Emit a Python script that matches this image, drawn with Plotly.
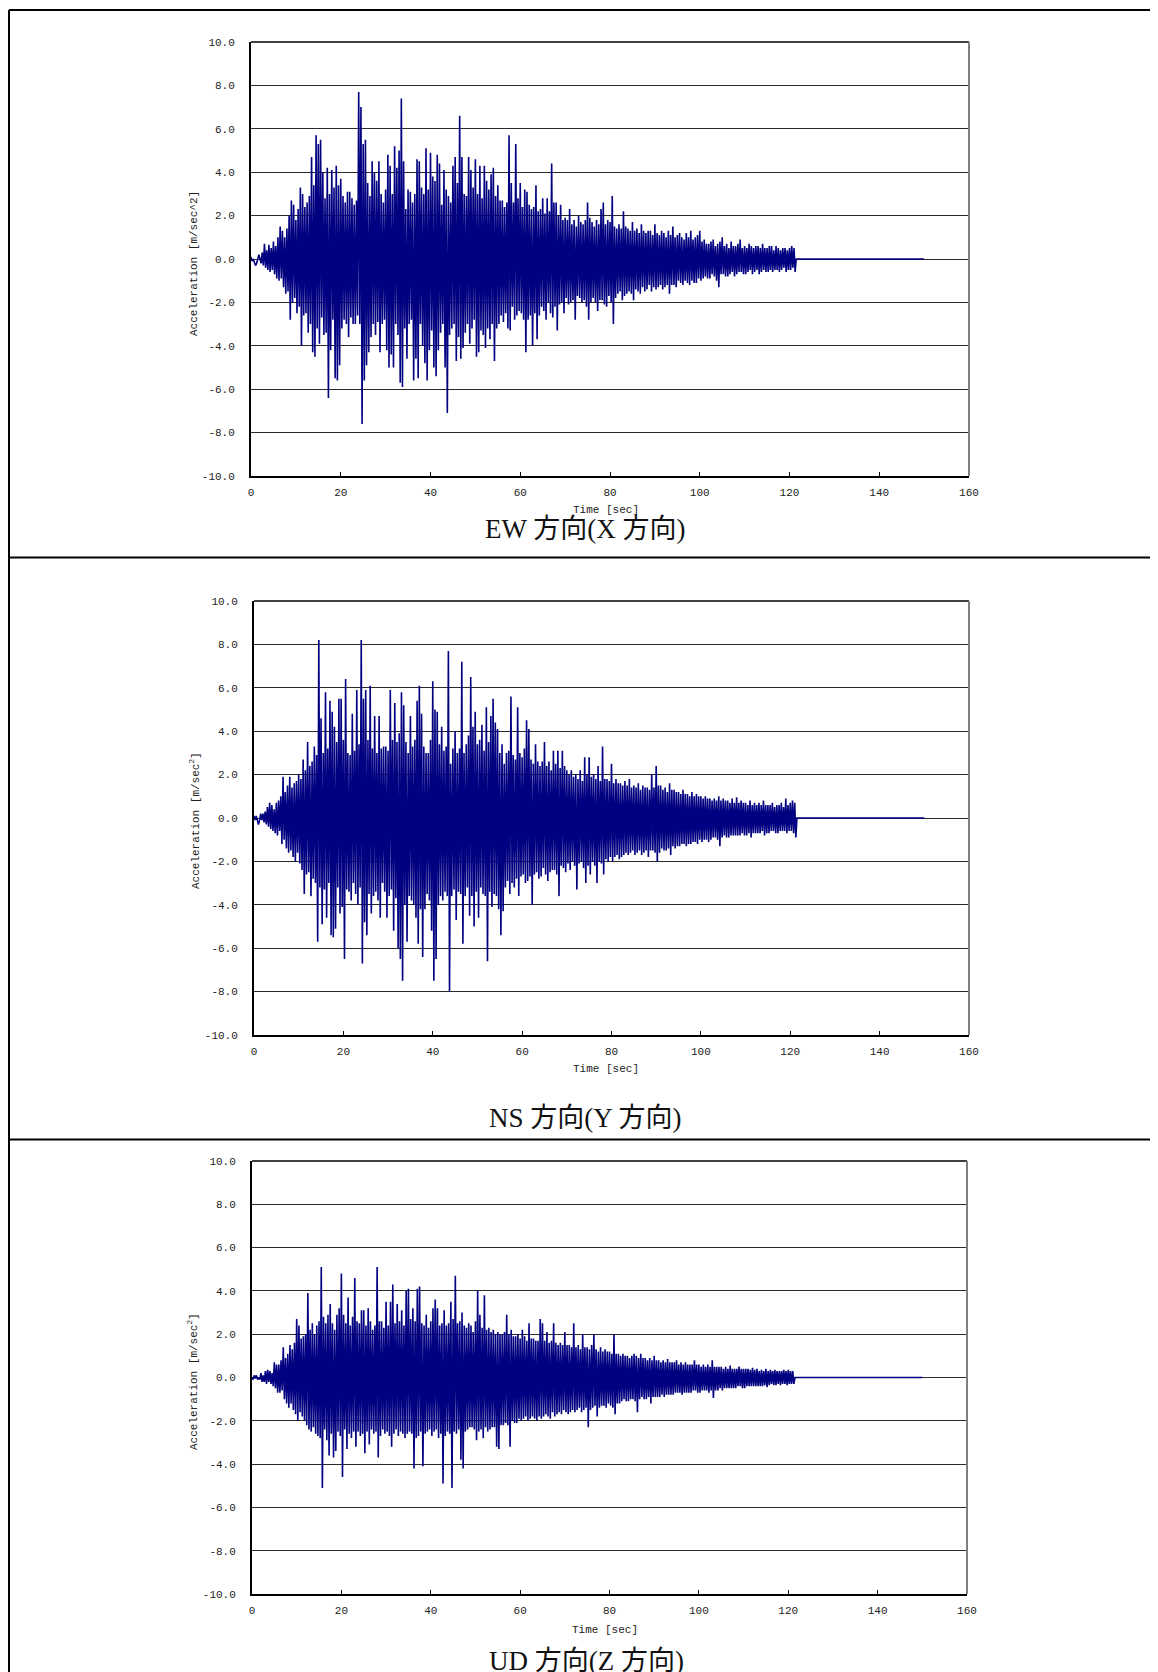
import numpy as np
import plotly.graph_objects as go

# ---------------- data ----------------
DT = 0.25  # sampling step of the values below [sec]

ew_acc = [
    0.1,-0.1,0.0,-0.2, -0.3,-0.2,0.1,0.2, 0.0,-0.2,0.3,-0.3, 0.7,-0.4,0.4,-0.5, 0.65,-0.6,0.5,-0.5,
    0.8,-0.7,0.6,-0.9, 1.0,-1.0,1.5,-0.9, 1.3,-1.3,1.0,-1.6, 1.4,-1.5,2.0,-2.8, 2.7,-2.0,2.5,-1.8,
    1.8,-2.5,2.3,-2.2, 3.3,-4.0,3.0,-2.6, 2.4,-2.5,2.6,-3.4, 2.9,-3.0,4.7,-4.3, 3.4,-4.5,5.7,-3.2,
    5.3,-3.9,5.5,-2.7, 4.0,-3.5,2.8,-3.4, 4.2,-6.4,3.0,-4.2, 4.1,-2.8,3.3,-5.5, 4.3,-5.6,3.4,-4.9,
    3.7,-3.2,2.9,-2.8, 2.6,-3.0,3.1,-3.6, 3.1,-2.7,2.8,-3.0, 2.5,-3.0,2.7,-2.6, 7.7,-3.0,7.0,-7.6,
    5.3,-5.6,5.5,-4.9, 3.5,-4.3,2.9,-3.6, 4.5,-3.0,4.0,-3.5, 3.6,-2.9,4.5,-4.3, 3.0,-3.0,2.6,-2.8,
    3.2,-4.2,4.8,-5.0, 4.3,-4.4,3.0,-5.0, 5.2,-3.0,4.2,-3.5, 5.0,-5.7,7.4,-5.9, 4.5,-3.2,2.3,-4.6,
    3.2,-3.0,3.1,-2.8, 2.6,-5.6,3.0,-4.6, 4.6,-5.5,4.5,-3.0, 3.3,-4.0,3.0,-4.8, 5.1,-5.6,3.2,-4.2,
    4.9,-3.3,3.8,-5.0, 3.6,-5.4,4.8,-4.2, 4.4,-3.4,2.5,-3.0, 4.1,-5.0,3.2,-7.1, 2.9,-3.5,2.6,-3.2,
    4.3,-3.0,4.7,-4.7, 3.5,-3.6,6.6,-4.6, 4.7,-4.1,3.0,-3.4, 2.9,-3.0,4.7,-3.9, 4.1,-3.2,3.3,-2.8,
    4.6,-4.5,3.0,-4.3, 4.3,-3.3,2.8,-3.5, 4.3,-4.1,3.6,-3.2, 3.2,-3.7,3.9,-3.0, 4.2,-4.7,2.9,-3.2,
    3.4,-3.0,2.7,-2.6, 2.7,-2.9,2.4,-2.5, 2.6,-3.2,5.7,-3.3, 3.5,-2.2,2.6,-2.8, 5.3,-2.6,2.8,-2.4,
    3.5,-2.5,2.4,-2.8, 3.2,-4.3,3.1,-2.8, 2.5,-2.6,2.3,-4.0, 2.4,-2.5,3.4,-3.7, 2.2,-2.6,2.3,-2.2,
    2.8,-2.4,2.1,-2.8, 2.8,-2.0,2.2,-2.5, 4.4,-2.7,2.6,-2.2, 2.6,-3.3,2.0,-2.1, 2.5,-2.0,1.8,-2.5,
    1.9,-1.8,1.8,-2.1, 2.3,-2.0,1.6,-1.9, 1.8,-2.8,1.5,-1.7, 2.0,-1.8,1.7,-2.0, 1.6,-1.9,1.8,-2.2,
    2.6,-2.8,1.9,-2.0, 1.7,-1.8,1.5,-2.0, 1.8,-2.4,1.6,-1.9, 2.3,-1.9,2.6,-2.1, 1.6,-2.2,1.8,-1.7,
    1.7,-2.0,2.9,-3.0, 1.5,-1.8,1.4,-1.6, 1.6,-1.5,1.4,-1.9, 2.2,-1.7,1.5,-1.6, 1.4,-1.5,1.3,-1.6,
    1.7,-1.9,1.3,-1.4, 1.4,-1.5,1.2,-1.6, 1.6,-1.3,1.3,-1.5, 1.2,-1.4,1.3,-1.2, 1.3,-1.5,1.1,-1.3,
    1.6,-1.4,1.2,-1.3, 1.1,-1.2,1.3,-1.4, 1.2,-1.3,1.0,-1.2, 1.3,-1.6,1.1,-1.2, 1.5,-1.2,1.0,-1.3,
    1.1,-1.0,1.2,-1.1, 1.0,-1.2,0.9,-1.0, 1.2,-1.1,1.0,-1.2, 1.3,-1.0,0.9,-1.1, 1.0,-1.1,1.1,-0.9,
    1.3,-1.0,0.8,-0.9, 0.9,-0.8,0.7,-0.9, 0.7,-0.9,0.8,-0.7, 0.9,-0.8,0.6,-1.0, 0.7,-1.3,0.8,-0.7,
    1.0,-0.7,0.6,-0.8, 0.7,-0.8,0.5,-0.7, 0.8,-0.6,0.6,-0.8, 0.6,-0.7,0.7,-0.6, 0.9,-0.6,0.5,-0.7,
    0.6,-0.7,0.5,-0.6, 0.7,-0.5,0.6,-0.7, 0.5,-0.6,0.6,-0.5, 0.6,-0.7,0.5,-0.6, 0.7,-0.5,0.5,-0.6,
    0.5,-0.6,0.6,-0.5, 0.6,-0.6,0.4,-0.5, 0.6,-0.5,0.5,-0.6, 0.4,-0.5,0.5,-0.4, 0.5,-0.6,0.4,-0.5,
    0.5,-0.5,0.6,-0.4, 0.5,-0.6,
]

ns_acc = [
    0.1,-0.1,0.1,-0.2, -0.3,-0.1,0.2,-0.1, 0.2,-0.2,0.3,-0.3, 0.5,-0.4,0.7,-0.5, 0.6,-0.6,0.4,-0.7,
    0.7,-0.8,0.8,-0.6, 1.0,-1.2,1.9,-1.0, 1.2,-1.4,1.5,-1.6, 1.9,-1.5,1.4,-1.8, 1.6,-2.0,1.7,-1.6,
    2.0,-2.1,1.8,-2.4, 2.7,-3.5,2.2,-2.6, 3.5,-2.5,2.4,-3.6, 2.6,-2.8,3.3,-3.0, 2.9,-5.7,8.2,-3.2,
    4.6,-4.9,3.0,-3.3, 5.8,-4.6,3.2,-3.0, 5.4,-5.4,4.9,-5.5, 4.2,-5.1,3.5,-3.2, 5.5,-4.4,5.5,-4.1,
    3.6,-6.5,6.4,-3.3, 3.0,-3.4,2.9,-3.8, 4.8,-3.0,3.1,-3.5, 5.9,-4.0,3.4,-3.2, 8.2,-6.7,5.5,-4.8,
    5.9,-5.4,3.6,-3.5, 6.1,-4.4,3.2,-3.6, 4.7,-3.4,3.0,-3.8, 4.7,-4.6,3.2,-3.0, 3.3,-3.4,3.3,-4.6,
    3.1,-3.6,5.9,-3.3, 3.6,-5.2,5.3,-3.7, 3.5,-6.0,3.9,-6.5, 5.8,-7.5,5.2,-4.0, 3.5,-5.7,3.0,-3.6,
    4.7,-3.8,3.3,-4.0, 3.6,-4.6,5.4,-5.8, 6.1,-4.2,4.8,-6.4, 3.3,-4.2,3.0,-3.5, 3.0,-3.8,3.6,-5.2,
    6.3,-7.5,5.0,-6.5, 4.9,-4.0,3.4,-3.6, 4.2,-3.8,3.1,-3.4, 3.3,-3.6,7.7,-8.0, 2.5,-3.6,3.2,-3.3,
    4.0,-4.7,3.0,-3.4, 3.2,-3.5,7.2,-5.8, 3.0,-3.6,3.4,-3.2, 3.8,-4.5,6.5,-3.6, 4.2,-5.0,4.9,-3.4,
    3.4,-4.6,3.6,-3.2, 4.3,-3.5,3.1,-3.6, 5.1,-6.6,3.5,-3.4, 4.7,-4.1,5.5,-3.5, 4.4,-3.6,4.1,-4.2,
    3.0,-5.4,3.4,-4.3, 2.5,-3.2,3.0,-2.9, 3.1,-3.5,5.6,-3.0, 2.9,-3.2,2.7,-2.8, 5.1,-3.6,3.0,-2.7,
    2.8,-2.6,3.2,-3.0, 4.5,-2.9,4.1,-2.7, 2.7,-4.0,2.5,-2.6, 3.4,-2.5,2.6,-2.8, 2.4,-2.7,2.6,-2.3,
    3.5,-2.6,2.4,-2.9, 2.6,-2.5,2.2,-2.4, 3.1,-2.4,2.5,-2.6, 3.1,-3.6,2.3,-2.2, 3.1,-2.3,2.4,-2.5,
    2.2,-2.1,2.0,-2.4, 2.2,-2.0,1.9,-2.2, 2.0,-3.3,1.8,-2.1, 2.2,-2.0,1.7,-2.3, 2.8,-3.0,2.0,-2.2,
    2.8,-2.6,1.9,-2.0, 2.0,-2.2,1.8,-3.0, 2.4,-2.0,1.7,-2.1, 3.3,-2.6,1.8,-1.9, 1.8,-2.0,1.7,-1.8,
    2.5,-2.0,1.6,-1.8, 1.8,-1.7,1.6,-1.9, 1.6,-1.8,1.5,-1.7, 1.7,-1.6,1.5,-1.7, 1.8,-1.6,1.4,-1.5,
    1.5,-1.7,1.4,-1.6, 1.6,-1.5,1.3,-1.7, 1.5,-1.6,1.4,-1.5, 1.4,-1.8,1.3,-1.5, 2.0,-1.5,1.4,-1.6,
    2.4,-2.0,1.5,-1.6, 1.5,-1.4,1.3,-1.5, 1.4,-1.5,1.2,-1.4, 1.6,-1.7,1.3,-1.3, 1.3,-1.4,1.2,-1.3,
    1.2,-1.3,1.1,-1.2, 1.3,-1.2,1.1,-1.3, 1.1,-1.2,1.0,-1.2, 1.2,-1.1,1.0,-1.1, 1.1,-1.2,1.0,-1.0,
    1.0,-1.1,0.9,-1.0, 1.0,-1.0,0.9,-1.1, 0.9,-1.0,0.8,-0.9, 0.9,-0.9,0.8,-1.0, 1.0,-1.3,0.8,-0.9,
    0.9,-0.8,0.8,-0.9, 0.8,-0.9,0.7,-0.8, 0.9,-0.8,0.7,-0.8, 0.95,-0.8,0.7,-0.8, 0.8,-0.7,0.7,-0.8,
    0.7,-0.8,0.6,-0.7, 0.8,-0.9,0.6,-0.7, 0.7,-0.7,0.6,-0.7, 0.7,-0.7,0.6,-0.6, 0.8,-0.8,0.6,-0.7,
    0.6,-0.7,0.6,-0.6, 0.7,-0.6,0.5,-0.7, 0.6,-0.7,0.6,-0.6, 0.7,-0.6,0.5,-0.6, 0.9,-0.7,0.6,-0.6,
    0.7,-0.6,0.8,-0.7, 0.7,-0.9,
]

ud_acc = [
    0.0,-0.1,0.1,-0.05, 0.1,-0.1,0.0,-0.1, 0.2,-0.2,0.1,-0.2, 0.3,-0.3,0.35,-0.2, 0.3,-0.3,0.2,-0.4,
    0.7,-0.5,0.6,-0.7, 0.6,-0.7,0.8,-0.6, 1.4,-1.0,0.9,-1.2, 1.1,-1.4,1.5,-1.2, 1.3,-1.5,1.6,-1.7,
    2.7,-2.0,2.4,-1.6, 1.8,-1.8,1.9,-2.0, 2.0,-2.2,3.9,-2.4, 2.2,-2.5,2.5,-2.3, 2.0,-2.6,2.4,-2.7,
    2.6,-2.8,5.1,-5.1, 2.8,-2.4,2.5,-2.9, 2.9,-3.6,3.4,-2.6, 2.5,-3.7,2.2,-3.4, 2.9,-2.5,3.2,-2.7,
    4.8,-4.6,2.9,-2.4, 2.5,-3.3,3.7,-2.6, 2.4,-2.8,2.8,-2.5, 4.6,-3.2,2.6,-2.5, 2.5,-2.7,3.1,-2.6,
    3.1,-3.5,2.4,-2.5, 3.2,-3.1,2.6,-2.4, 2.2,-2.6,2.4,-2.5, 5.1,-3.7,2.6,-2.7, 2.6,-2.4,2.3,-2.6,
    3.5,-2.5,2.4,-2.7, 3.5,-3.2,4.3,-2.6, 2.5,-2.4,3.4,-2.7, 2.6,-2.5,3.1,-2.6, 2.4,-2.8,4.0,-2.6,
    4.1,-2.5,2.7,-2.6, 3.2,-4.2,2.6,-2.8, 4.1,-2.7,4.2,-2.5, 2.5,-4.1,2.4,-2.6, 2.9,-2.5,2.3,-2.4,
    2.6,-2.7,3.2,-2.5, 3.6,-2.4,3.2,-2.8, 2.4,-2.6,2.5,-4.9, 3.1,-2.7,2.4,-2.5, 2.5,-2.6,3.5,-5.1,
    2.7,-2.5,4.7,-2.6, 2.5,-2.4,2.6,-3.8, 3.0,-4.2,2.4,-2.5, 2.3,-2.4,2.5,-2.3, 2.4,-2.3,2.1,-2.4,
    2.6,-2.9,4.0,-2.5, 2.9,-2.4,2.3,-2.8, 3.8,-2.3,2.2,-2.5, 2.3,-2.4,2.1,-2.3, 2.2,-2.3,2.0,-3.2,
    2.1,-3.3,2.0,-2.2, 2.0,-2.2,2.1,-2.1, 2.9,-2.2,2.0,-3.2, 2.2,-2.0,1.9,-2.1, 1.9,-2.1,2.0,-1.9,
    1.8,-2.0,2.2,-1.9, 1.9,-1.8,1.7,-2.0, 2.5,-1.9,1.8,-1.8, 1.8,-1.9,1.7,-2.0, 1.7,-1.8,2.7,-1.9,
    2.5,-1.8,1.7,-1.7, 2.1,-1.8,1.6,-1.9, 1.7,-1.6,2.5,-1.8, 1.6,-1.7,1.5,-1.6, 1.6,-1.7,1.5,-1.5,
    2.1,-1.6,1.5,-1.7, 1.5,-1.6,1.4,-1.5, 2.5,-1.6,1.4,-1.5, 1.5,-1.4,1.3,-1.6, 2.0,-1.5,1.4,-1.4,
    1.4,-2.3,1.3,-1.5, 1.5,-1.4,2.0,-1.3, 1.3,-1.8,1.2,-1.4, 1.4,-1.3,1.2,-1.3, 1.3,-1.4,1.2,-1.2,
    1.2,-1.3,1.1,-1.4, 2.0,-1.7,1.1,-1.2, 1.1,-1.2,1.0,-1.1, 1.1,-1.0,1.0,-1.1, 1.0,-1.1,0.9,-1.0,
    1.0,-1.0,1.1,-1.1, 1.0,-1.6,0.9,-1.0, 1.1,-0.9,0.9,-1.0, 0.9,-1.0,0.8,-0.9, 0.9,-1.2,0.8,-0.9,
    1.0,-0.9,0.8,-0.9, 0.8,-0.9,0.7,-0.8, 0.8,-0.9,0.7,-0.8, 0.85,-0.8,0.7,-0.8, 0.7,-0.8,0.7,-0.7,
    0.8,-0.7,0.6,-0.7, 0.7,-0.8,0.6,-0.7, 0.7,-0.7,0.6,-0.7, 0.6,-0.7,0.6,-0.6, 0.8,-0.6,0.6,-0.7,
    0.6,-0.7,0.5,-0.6, 0.6,-0.6,0.5,-0.6, 0.6,-0.7,0.5,-0.6, 0.8,-0.95,0.5,-0.6, 0.5,-0.6,0.5,-0.5,
    0.5,-0.6,0.4,-0.5, 0.5,-0.5,0.4,-0.5, 0.55,-0.5,0.4,-0.5, 0.4,-0.5,0.4,-0.4, 0.5,-0.4,0.4,-0.5,
    0.4,-0.5,0.4,-0.4, 0.4,-0.4,0.35,-0.4, 0.45,-0.4,0.35,-0.4, 0.4,-0.4,0.3,-0.4, 0.35,-0.4,0.3,-0.35,
    0.4,-0.45,0.3,-0.35, 0.35,-0.3,0.3,-0.35, 0.35,-0.35,0.3,-0.3, 0.3,-0.35,0.3,-0.3, 0.35,-0.3,0.3,-0.35,
    0.35,-0.3,0.3,-0.3, 0.3,-0.3,
]

# record after the motion ends: flat zero until 150 s
tail_t = [121.5, 150.0]
tail_acc = [0.0, 0.0]

x_tick_vals = [0, 20, 40, 60, 80, 100, 120, 140, 160]
y_tick_vals = [-10, -8, -6, -4, -2, 0, 2, 4, 6, 8, 10]
y_tick_text = ["-10.0", "-8.0", "-6.0", "-4.0", "-2.0", "0.0", "2.0", "4.0", "6.0", "8.0", "10.0"]

panel_titles = ["EW 方向(X 方向)", "NS 方向(Y 方向)", "UD 方向(Z 方向)"]
y_titles = ["Acceleration [m/sec^2]",
            "Acceleration [m/sec<sup>2</sup>]",
            "Acceleration [m/sec<sup>2</sup>]"]
x_title = "Time [sec]"

# ---------------- layout geometry (page pixels) ----------------
W, H = 1158, 1672
OFF = 8                        # default body margin of the html page
FW, FH = 1160, 1675            # figure size (covers the whole window)

def px(x):
    return (x - OFF) / FW

def py(y):
    return 1 - (y - OFF) / FH

# plot boxes: left, right, top, bottom
boxes = [(251, 969, 42, 476), (254, 969, 601, 1035), (252, 967, 1161, 1594)]
ytitle_pos = [(194, 263), (195, 821), (193, 1382)]
xtitle_pos = [(606, 510), (606, 1069), (605, 1630)]
ptitle_pos = [(585, 529), (585, 1118), (586, 1661)]

MONO = "Liberation Mono, DejaVu Sans Mono, monospace"
TITLE_FONT = "Liberation Serif, Noto Sans CJK JP, serif"
NAVY = "#000080"

fig = go.Figure()
series = [ew_acc, ns_acc, ud_acc]
for i, acc in enumerate(series):
    t = list(np.arange(len(acc)) * DT) + tail_t
    a = list(acc) + tail_acc
    fig.add_trace(go.Scatter(
        x=t, y=a, mode="lines",
        line=dict(color=NAVY, width=1.6),
        xaxis="x" if i == 0 else f"x{i+1}",
        yaxis="y" if i == 0 else f"y{i+1}",
        showlegend=False, hoverinfo="skip",
    ))

layout = dict(
    width=FW, height=FH,
    margin=dict(l=0, r=0, t=0, b=0),
    paper_bgcolor="white", plot_bgcolor="white",
    showlegend=False,
)

shapes = []
annotations = []
for i, (l, r, t, b) in enumerate(boxes):
    sx = "" if i == 0 else str(i + 1)
    layout[f"xaxis{sx}"] = dict(
        domain=[px(l), px(r)], range=[0, 160], anchor=f"y{sx}",
        tickvals=x_tick_vals, ticks="inside", ticklen=4, tickcolor="#000",
        tickwidth=1, showline=True, linecolor="#000", linewidth=2,
        showgrid=False, zeroline=False, automargin=False,
        tickfont=dict(family=MONO, size=11, color="#222"),
        ticklabelstandoff=5, fixedrange=True,
    )
    layout[f"yaxis{sx}"] = dict(
        domain=[py(b), py(t)], range=[-10, 10], anchor=f"x{sx}",
        tickvals=y_tick_vals, ticktext=y_tick_text, ticks="",
        showline=True, linecolor="#000", linewidth=2,
        showgrid=True, gridcolor="#2a2a2a", gridwidth=1,
        zeroline=False, automargin=False,
        tickfont=dict(family=MONO, size=11, color="#222"),
        ticklabelstandoff=12, fixedrange=True,
    )
    xr = "x" if i == 0 else f"x{i+1}"
    yr = "y" if i == 0 else f"y{i+1}"
    # top edge (black) and right edge (gray) of the plot frame
    shapes.append(dict(type="line", xref=f"{xr} domain", yref=f"{yr} domain",
                       x0=0, x1=1, y0=1, y1=1, line=dict(color="#000", width=1.5)))
    shapes.append(dict(type="line", xref=f"{xr} domain", yref=f"{yr} domain",
                       x0=1, x1=1, y0=0, y1=1, line=dict(color="#7f7f7f", width=2)))

    yx, yy = ytitle_pos[i]
    annotations.append(dict(x=px(yx), y=py(yy), xref="paper", yref="paper",
                            text=y_titles[i], textangle=-90, showarrow=False,
                            xanchor="center", yanchor="middle",
                            font=dict(family=MONO, size=11, color="#222")))
    xx, xy = xtitle_pos[i]
    annotations.append(dict(x=px(xx), y=py(xy), xref="paper", yref="paper",
                            text=x_title, showarrow=False,
                            xanchor="center", yanchor="middle",
                            font=dict(family=MONO, size=11, color="#222")))
    tx, ty = ptitle_pos[i]
    annotations.append(dict(x=px(tx), y=py(ty), xref="paper", yref="paper",
                            text=panel_titles[i], showarrow=False,
                            xanchor="center", yanchor="middle",
                            font=dict(family=TITLE_FONT, size=27, color="#111")))

# outer frame of the document table
frame = dict(color="#000", width=2)
shapes.append(dict(type="line", xref="paper", yref="paper",
                   x0=px(9), x1=px(9), y0=py(10), y1=py(H + 10), line=frame))
shapes.append(dict(type="line", xref="paper", yref="paper",
                   x0=px(9), x1=px(W + 10), y0=py(10), y1=py(10), line=frame))
for sep in (557.5, 1139.5):
    shapes.append(dict(type="line", xref="paper", yref="paper",
                       x0=px(9), x1=px(W + 10), y0=py(sep), y1=py(sep), line=frame))

layout["shapes"] = shapes
layout["annotations"] = annotations
fig.update_layout(**layout)

fig.write_html("out.html", config={"displayModeBar": False, "staticPlot": True})
